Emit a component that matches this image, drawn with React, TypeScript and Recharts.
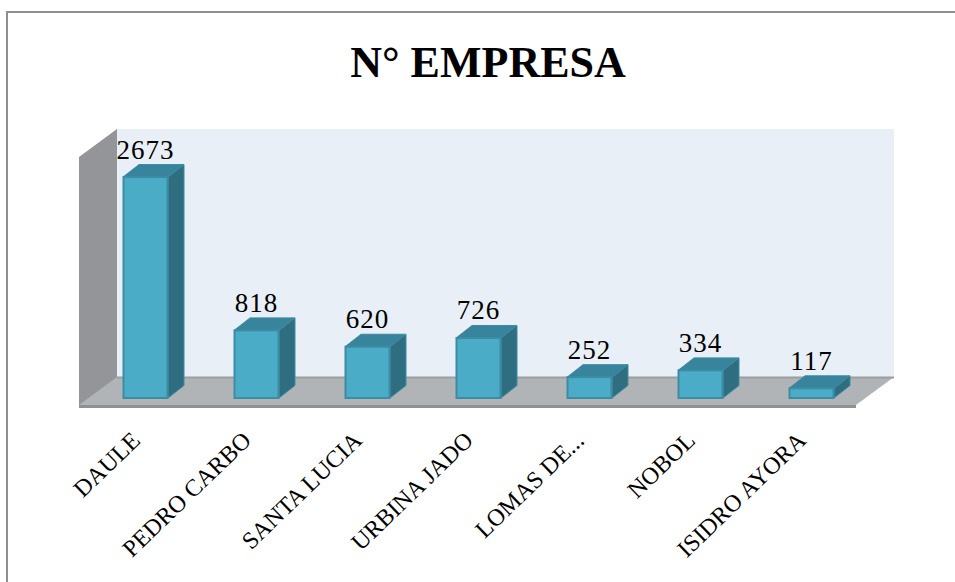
import { Bar, BarChart, LabelList, XAxis, YAxis } from 'recharts';

const municipios = ['DAULE', 'PEDRO CARBO', 'SANTA LUCIA', 'URBINA JADO', 'LOMAS DE...', 'NOBOL', 'ISIDRO AYORA'];
const empresas = [2673, 818, 620, 726, 252, 334, 117];

const data = municipios.map((name, i) => ({ name, empresas: empresas[i] }));

const FONT = '"Liberation Serif", serif';
const DEPTH_X = 16;
const DEPTH_Y = 12.5;

// the fake 3D room behind the bars
function Room() {
    return (
        <g>
            <polygon points="79,157 117,129 117,378 79,407" fill="#939598" />
            <rect x={117} y={129} width={777} height={249} fill="#e9eff6" />
            <polygon points="79,405 117,377 894,377 856,405" fill="#b1b4b7" />
            <line x1={117} y1={377.5} x2={894} y2={377.5} stroke="#9c9ea0" strokeWidth={2} />
            <rect x={79} y={405} width={777} height={3} fill="#8f9092" />
        </g>
    );
}

function Bar3D({ x, y, width, height }: any) {
    const r = x + width;
    const b = y + height;
    return (
        <g stroke="#3c8ca3" strokeWidth={1}>
            <polygon points={`${x},${y} ${x + DEPTH_X},${y - DEPTH_Y} ${r + DEPTH_X},${y - DEPTH_Y} ${r},${y}`} fill="#37849c" />
            <polygon points={`${r},${y} ${r + DEPTH_X},${y - DEPTH_Y} ${r + DEPTH_X},${b - DEPTH_Y} ${r},${b}`} fill="#2f6e80" />
            <rect x={x + 0.5} y={y} width={width - 1} height={height} fill="#4aacc6" strokeWidth={2} />
        </g>
    );
}

function ValueLabel({ x, y, width, value }: any) {
    return (
        <text x={x + width / 2} y={y - 18.5} textAnchor="middle" fontFamily={FONT} fontSize={27} letterSpacing={1} fill="#000">
            {value}
        </text>
    );
}

function RotatedTick({ x, y, payload }: any) {
    const tx = x - 4;
    const ty = y + 36;
    return (
        <text
            x={tx}
            y={ty}
            textAnchor="end"
            fontFamily={FONT}
            fontSize={24}
            fill="#000"
            transform={`rotate(-44 ${tx} ${ty})`}
        >
            {payload.value}
        </text>
    );
}

export default function App() {
    return (
        <div style={{ position: 'absolute', left: 0, top: 0, width: 955, height: 582, background: '#fff' }}>
            <div style={{ position: 'absolute', left: 6, top: 11, right: 0, bottom: 0, borderLeft: '2px solid #8f8f8f', borderTop: '2px solid #8f8f8f' }} />
            <BarChart
                width={955}
                height={582}
                data={data}
                margin={{ top: 150, right: 88, bottom: 0, left: 90 }}
                style={{ position: 'absolute', left: 0, top: 0 }}
            >
                <Room />
                <text x={488} y={77} textAnchor="middle" fontFamily={FONT} fontWeight="bold" fontSize={44} fill="#000">
                    N° EMPRESA
                </text>
                <XAxis dataKey="name" height={184} axisLine={false} tickLine={false} interval={0} tick={<RotatedTick />} />
                <YAxis hide domain={[0, 3000]} />
                <Bar dataKey="empresas" barSize={45} shape={<Bar3D />} isAnimationActive={false}>
                    <LabelList dataKey="empresas" content={<ValueLabel />} />
                </Bar>
            </BarChart>
        </div>
    );
}
